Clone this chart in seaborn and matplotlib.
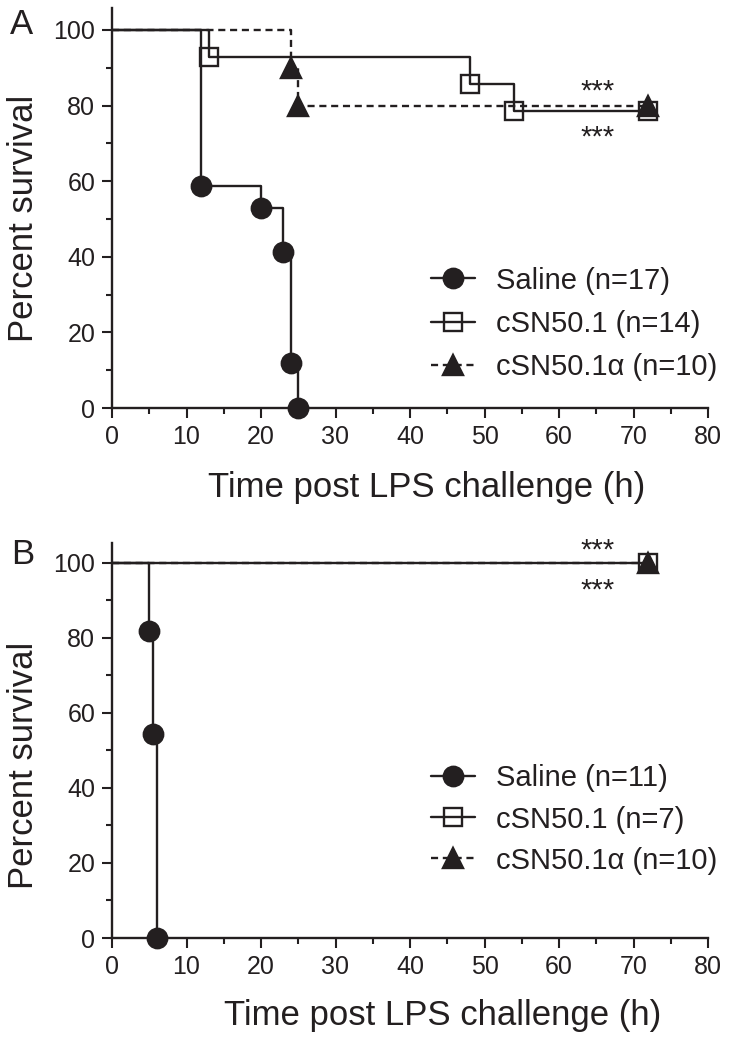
import matplotlib
matplotlib.use('Agg')
import matplotlib.pyplot as plt
import seaborn as sns
from matplotlib.ticker import MultipleLocator

sns.set_theme(style='ticks')
plt.rcParams['font.family'] = ['Liberation Sans', 'DejaVu Sans']

INK = '#231f20'

# ---------------- data ----------------
# Panel A
a_saline_t = [0, 12, 20, 23, 24, 25]
a_saline_s = [100, 58.8, 52.9, 41.2, 11.8, 0]
a_csn_t = [0, 13, 48, 54, 72]
a_csn_s = [100, 92.9, 85.7, 78.6, 78.6]
a_alpha_t = [0, 24, 25, 72]
a_alpha_s = [100, 90, 80, 80]
a_labels = ['Saline (n=17)', 'cSN50.1 (n=14)', 'cSN50.1\u03b1 (n=10)']

# Panel B
b_saline_t = [0, 5, 5.5, 6]
b_saline_s = [100, 81.8, 54.5, 0]
b_csn_t = [0, 72]
b_csn_s = [100, 100]
b_alpha_t = [0, 72]
b_alpha_s = [100, 100]
b_labels = ['Saline (n=11)', 'cSN50.1 (n=7)', 'cSN50.1\u03b1 (n=10)']

x_ticks = [0, 10, 20, 30, 40, 50, 60, 70, 80]
y_ticks = [0, 20, 40, 60, 80, 100]
x_label = 'Time post LPS challenge (h)'
y_label = 'Percent survival'
stars = '***'

# ---------------- styles ----------------
styles = [
    dict(marker='o', ms=14, mfc=INK, mec=INK, ls='-'),
    dict(marker='s', ms=13, mfc='none', mec=INK, ls='-'),
    dict(marker='^', ms=14, mfc=INK, mec=INK, ls=(0, (3, 2))),
]

fig = plt.figure(figsize=(7.35, 10.5), dpi=100)
axA = fig.add_axes([112 / 735, 642 / 1050, 596 / 735, 400 / 1050])
axB = fig.add_axes([112 / 735, 112 / 1050, 596 / 735, 395 / 1050])


def draw(ax, series, labels, ymax, leg_y, star_y, ylab_y, xlab_x, xlab_y, spacing):
    for (t, s), lab, st in zip(series, labels, styles):
        sns.lineplot(x=t, y=s, ax=ax, drawstyle='steps-post', color=INK, lw=1.7,
                     ls=st['ls'], marker=st['marker'], ms=st['ms'], mfc=st['mfc'],
                     mec=st['mec'], mew=1.7, markevery=slice(1, None),
                     estimator=None, errorbar=None, label=lab, clip_on=False)
    ax.set_xlim(0, 80)
    ax.set_ylim(0, ymax)
    ax.set_xticks(x_ticks)
    ax.set_yticks(y_ticks)
    ax.xaxis.set_minor_locator(MultipleLocator(5))
    ax.yaxis.set_minor_locator(MultipleLocator(10))
    ax.tick_params(which='major', length=7, width=1.5, color=INK, labelsize=18,
                   labelcolor=INK, pad=5, direction='out')
    ax.tick_params(which='minor', length=4, width=1.5, color=INK, direction='out')
    for side in ['top', 'right']:
        ax.spines[side].set_visible(False)
    for side in ['left', 'bottom']:
        ax.spines[side].set_linewidth(1.7)
        ax.spines[side].set_color(INK)
    ax.set_xlabel(x_label, fontsize=25, color=INK)
    ax.set_ylabel(y_label, fontsize=25, color=INK)
    ax.xaxis.label.set_va('center')
    ax.yaxis.label.set_va('center')
    ax.xaxis.set_label_coords(xlab_x, xlab_y)
    ax.yaxis.set_label_coords(-0.148, ylab_y)
    for sy in star_y:
        ax.text(65.2, sy, stars, ha='center', va='center', fontsize=21, color=INK)
    leg = ax.legend(loc='center left', bbox_to_anchor=(0.535, leg_y), frameon=False,
                    fontsize=21, handlelength=1.5, handletextpad=0.75,
                    labelspacing=spacing, borderpad=0, borderaxespad=0)
    for txt in leg.get_texts():
        txt.set_color(INK)
    ax.set_facecolor('white')


draw(axA, [(a_saline_t, a_saline_s), (a_csn_t, a_csn_s), (a_alpha_t, a_alpha_s)],
     a_labels, 105.8, 0.21, [83.6, 71.6], 0.475, 0.528, -0.1975, 0.53)
draw(axB, [(b_saline_t, b_saline_s), (b_csn_t, b_csn_s), (b_alpha_t, b_alpha_s)],
     b_labels, 105.3, 0.30, [103.4, 92.6], 0.437, 0.555, -0.195, 0.45)

fig.text(22 / 735, 1 - 25 / 1050, 'A', ha='center', va='center', fontsize=25, color=INK)
fig.text(23 / 735, 1 - 554 / 1050, 'B', ha='center', va='center', fontsize=25, color=INK)

fig.savefig('out.png', dpi=100, facecolor='white')
